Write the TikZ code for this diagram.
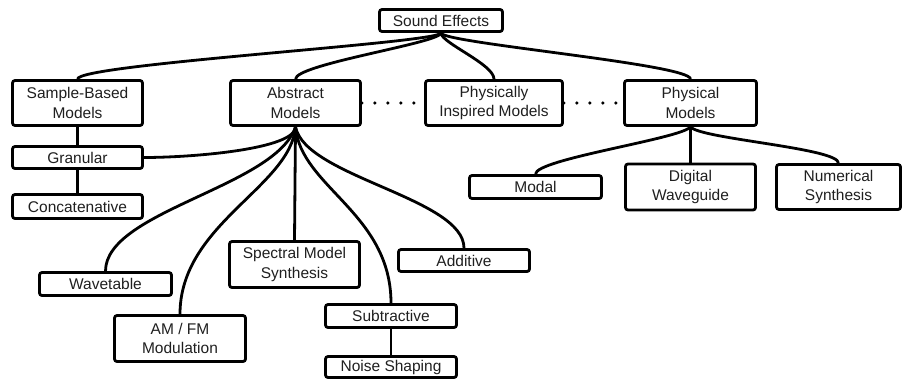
\documentclass[tikz,border=0pt]{standalone}
\usepackage{fontspec}
\setmainfont{Liberation Sans}
\begin{document}
\begin{tikzpicture}[x=1pt,y=-1pt,
  box/.style={draw, line width=2.8pt, rounded corners=2.5pt, align=center,
    inner sep=0pt, text=black!88,
    font=\fontsize{15.5}{19.5}\selectfont},
  link/.style={line width=2.8pt},
  dots/.style={line width=3.6pt, line cap=round, dash pattern=on 0pt off 13pt}]
\useasboundingbox (0,0) rectangle (904,380);

% top level
\node[box, minimum width=123pt, minimum height=22pt] (se) at (441,20.5) {Sound Effects};

% model families
\node[box, minimum width=130pt, minimum height=45pt] (sb) at (77.5,103) {Sample-Based\\Models};
\node[box, minimum width=130pt, minimum height=45pt] (ab) at (295.5,103) {Abstract\\Models};
\node[box, minimum width=137pt, minimum height=45pt] (pi) at (494,103) {Physically\\Inspired Models};
\node[box, minimum width=132pt, minimum height=45pt] (ph) at (690.5,103) {Physical\\Models};

% sample-based techniques
\node[box, minimum width=130pt, minimum height=22pt] (gr) at (77.5,157.5) {Granular};
\node[box, minimum width=130pt, minimum height=24pt] (cc) at (77.5,206.5) {Concatenative};

% abstract techniques
\node[box, minimum width=132pt, minimum height=23pt] (wt) at (105.5,284) {Wavetable};
\node[box, minimum width=131pt, minimum height=46pt] (am) at (180,338.5) {AM / FM\\Modulation};
\node[box, minimum width=130pt, minimum height=46pt] (sm) at (294.5,264.5) {Spectral Model\\Synthesis};
\node[box, minimum width=131pt, minimum height=23pt] (su) at (391,316) {Subtractive};
\node[box, minimum width=131pt, minimum height=21pt] (ns) at (391,367) {Noise Shaping};
\node[box, minimum width=131pt, minimum height=22pt] (ad) at (464,260.5) {Additive};

% physical techniques
\node[box, minimum width=132pt, minimum height=23pt] (mo) at (535.5,187) {Modal};
\node[box, minimum width=130pt, minimum height=46pt] (dw) at (690.5,187) {Digital\\Waveguide};
\node[box, minimum width=124pt, minimum height=45pt] (nu) at (838.5,187) {Numerical\\Synthesis};

% links from the root
\draw[link] (se.south) .. controls +(0,10) and +(0,-15) .. (sb.north);
\draw[link] (se.south) .. controls +(0,10) and +(0,-15) .. (ab.north);
\draw[link] (se.south) .. controls +(0,10) and +(0,-15) .. (pi.north);
\draw[link] (se.south) .. controls +(0,10) and +(0,-15) .. (ph.north);

% sample-based chain
\draw[link] (sb.south) -- (gr.north);
\draw[link] (gr.south) -- (cc.north);

% abstract fan
\draw[link] (ab.south) .. controls +(0,22) and +(50,0) .. (gr.east);
\draw[link] (ab.south) .. controls +(-20,60) and +(0,-60) .. (wt.north);
\draw[link] (ab.south) .. controls +(-5,60) and +(0,-90) .. (am.north);
\draw[link] (ab.south) -- (sm.north);
\draw[link] (ab.south) .. controls +(5,60) and +(0,-90) .. (su.north);
\draw[link] (ab.south) .. controls +(10,50) and +(0,-50) .. (ad.north);
\draw[link] (su.south) -- (ns.north);

% physical fan
\draw[link] (ph.south) .. controls +(-10,12) and +(0,-15) .. (mo.north);
\draw[link] (ph.south) -- (dw.north);
\draw[link] (ph.south) .. controls +(10,12) and +(0,-15) .. (nu.north);

% dotted relations between families
\draw[dots] (ab.east) -- (pi.west);
\draw[dots] (pi.east) -- (ph.west);
\end{tikzpicture}
\end{document}
